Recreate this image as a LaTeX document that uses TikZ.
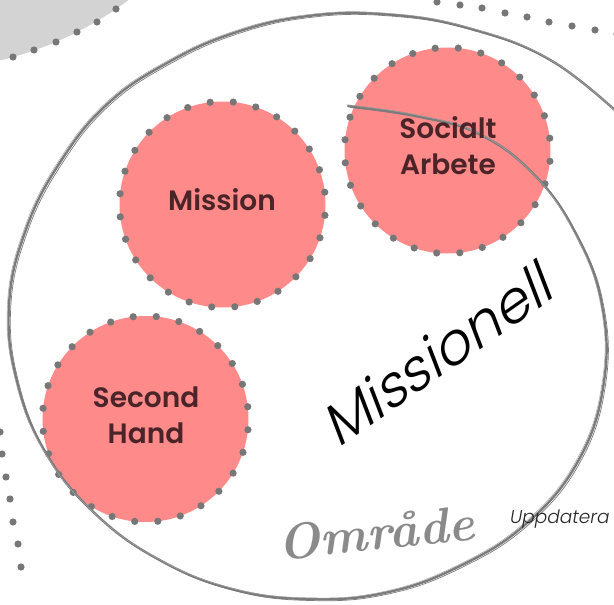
\documentclass[tikz,border=0pt]{standalone}
\usepackage{fontspec}
\newfontfamily\lblfont{Poppins SemiBold}
\newfontfamily\lightfont{Poppins Light}
\newfontfamily\lightitfont{Poppins Light Italic}
\definecolor{pinkc}{HTML}{FF8A8A}
\definecolor{dotc}{HTML}{777777}
\definecolor{strokec}{HTML}{7B7B7B}
\definecolor{blobc}{HTML}{D3D3D3}
\definecolor{txtc}{HTML}{4A2428}
\definecolor{scriptc}{HTML}{8A8A8A}
\begin{document}
\begin{tikzpicture}[x=1pt,y=-1pt,
  bubble/.style={circle,fill=pinkc,minimum size=206pt,inner sep=0pt},
  lbl/.style={font=\lblfont\fontsize{28}{36}\selectfont,text=txtc,align=center,inner sep=0pt},
  dotfill/.style={fill=dotc},
  sketch/.style={draw=strokec,line width=2.4pt,line cap=round,line join=round}]
\useasboundingbox (0,0) rectangle (614,605);
\clip (0,0) rectangle (614,605);
% grey blob top left
\fill[blobc] (-83.8,-285.2) circle (355.6);
\foreach \p in {(13,57),(34,50),(56,42),(77,32),(97,22),(116,9)}
  \fill[dotfill] \p circle (3.6);
% dotted arcs
\foreach \p in {(437,2),(460,5),(482,8),(505,13),(527,17),(549,22),(572,26),(595,30),(617,34)}
  \fill[dotfill] \p circle (3.6);
\foreach \p in {(0,432),(2,454),(6,477),(10,499),(13,522),(18,544),(21,567)}
  \fill[dotfill] \p circle (3.6);
% bubbles
\node[bubble] (mission) at (222.5,204.5) {};
\node[bubble] (social) at (447.5,150.5) {};
\node[bubble] (second) at (145.5,419) {};
\foreach \c in {mission,social,second}
  \foreach \a in {0,...,27}
    \fill[dotfill] (\c.center) ++(\a*360/28+6:103) circle (3.6);
% sketched big circle
\def\sketchpath{(348,106) (417,116) (479,134) (534,174.5) (575.6,233.3) (602,305) (603.6,384.2) (578.2,461) (526.5,523.5) (459,566.5) (385.1,592.8) (308,599) (231.9,589) (160.5,560.5) (97.3,515.7) (47.3,455.5) (17.3,382.9) (9,305) (26,229.4) (60.3,162) (107.2,104.2) (168,62.5) (235,32.6) (308,16) (385.9,14.3) (468,28) (552,61) (626.7,121)}
\draw[sketch] plot[smooth,tension=0.7] coordinates {\sketchpath};
\draw[draw=strokec,line width=0.7pt,shift={(1.8,1.5)}] plot[smooth,tension=0.7] coordinates {\sketchpath};
\draw[draw=strokec!70,line width=0.5pt,shift={(-1.5,-1.2)}] plot[smooth,tension=0.7] coordinates {\sketchpath};
% labels
\node[lbl] (missiont) at (222,200) {Mission};
\node[lbl] (socialt) at (448,146) {Socialt\\Arbete};
\node[lbl] (secondt) at (146,415) {Second\\Hand};
\node[font=\lightfont\fontsize{57}{60}\selectfont,anchor=base west,inner sep=0pt,rotate=35,xslant=0.25] (missionell) at (338,449) {Missionell};
\node[font=\bfseries\itshape\fontsize{50}{55}\selectfont,text=scriptc,rotate=6] (omrade) at (376,533) {Område};
\node[font=\lightitfont\fontsize{18.5}{24}\selectfont,text=black!85,anchor=base west,inner sep=0pt] (upp) at (510,523) {Uppdatera};
\end{tikzpicture}
\end{document}
